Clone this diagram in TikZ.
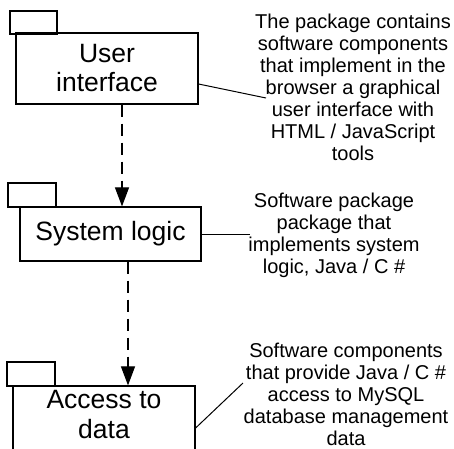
\documentclass[tikz,border=0pt]{standalone}
\usepackage{fontspec}
\setmainfont{Liberation Sans}
\usetikzlibrary{arrows.meta}
\begin{document}
\begin{tikzpicture}[x=1pt,y=-1pt,
  pkgbox/.style={draw, line width=1.2pt, rectangle, inner sep=0pt, align=center,
    font=\fontsize{26.5}{29}\selectfont},
  pkgtab/.style={draw, line width=1.2pt, rectangle, inner sep=0pt},
  pkgtext/.style={inner sep=0pt, align=center, font=\fontsize{26.5}{29}\selectfont},
  note/.style={inner sep=0pt, align=center, font=\fontsize{20}{22}\selectfont},
  link/.style={line width=1pt},
  dep/.style={line width=1.1pt, dash pattern=on 12pt off 7pt,
    -{Triangle[width=14pt,length=19pt]}}]
\useasboundingbox (0,0) rectangle (454,448);
\clip (0,0) rectangle (454,448);

% packages
\node[pkgtab, minimum width=47pt, minimum height=23pt] (tab1) at (33.5,22.5) {};
\node[pkgbox, minimum width=182pt, minimum height=71pt] (box1) at (107,68.5) {User\\interface};

\node[pkgtab, minimum width=48pt, minimum height=24pt] (tab2) at (32,195) {};
\node[pkgbox, minimum width=181pt, minimum height=54pt] (box2) at (110.5,234) {System logic};

\node[pkgtab, minimum width=48pt, minimum height=24pt] (tab3) at (31,374) {};
\node[pkgbox, minimum width=182pt, minimum height=90pt] (box3) at (104,431) {};
\node[pkgtext] (box3text) at (104,414.5) {Access to\\data};

% notes
\node[note] (note1) at (353,87) {The package contains\\software components\\that implement in the\\browser a graphical\\user interface with\\HTML / JavaScript\\tools};
\node[note] (note2) at (334,235) {Software package\\package that\\implements system\\logic, Java / C \#};
\node[note] (note3) at (346,394) {Software components\\that provide Java / C \#\\access to MySQL\\database management\\data};

% note connectors
\coordinate (e1) at (266,98);
\coordinate (e2) at (250,234);
\coordinate (e3) at (243,383);
\draw[link] ([yshift=-15.5pt]box1.east) -- (e1);
\draw[link] (box2.east) -- (e2);
\draw[link] ([yshift=3pt]box3.east) -- (e3);

% dependencies
\coordinate (x1) at (122,0);
\coordinate (x2) at (128,0);
\draw[dep] (box1.south -| x1) -- (box2.north -| x1);
\draw[dep] (box2.south -| x2) -- (box3.north -| x2);
\end{tikzpicture}
\end{document}
